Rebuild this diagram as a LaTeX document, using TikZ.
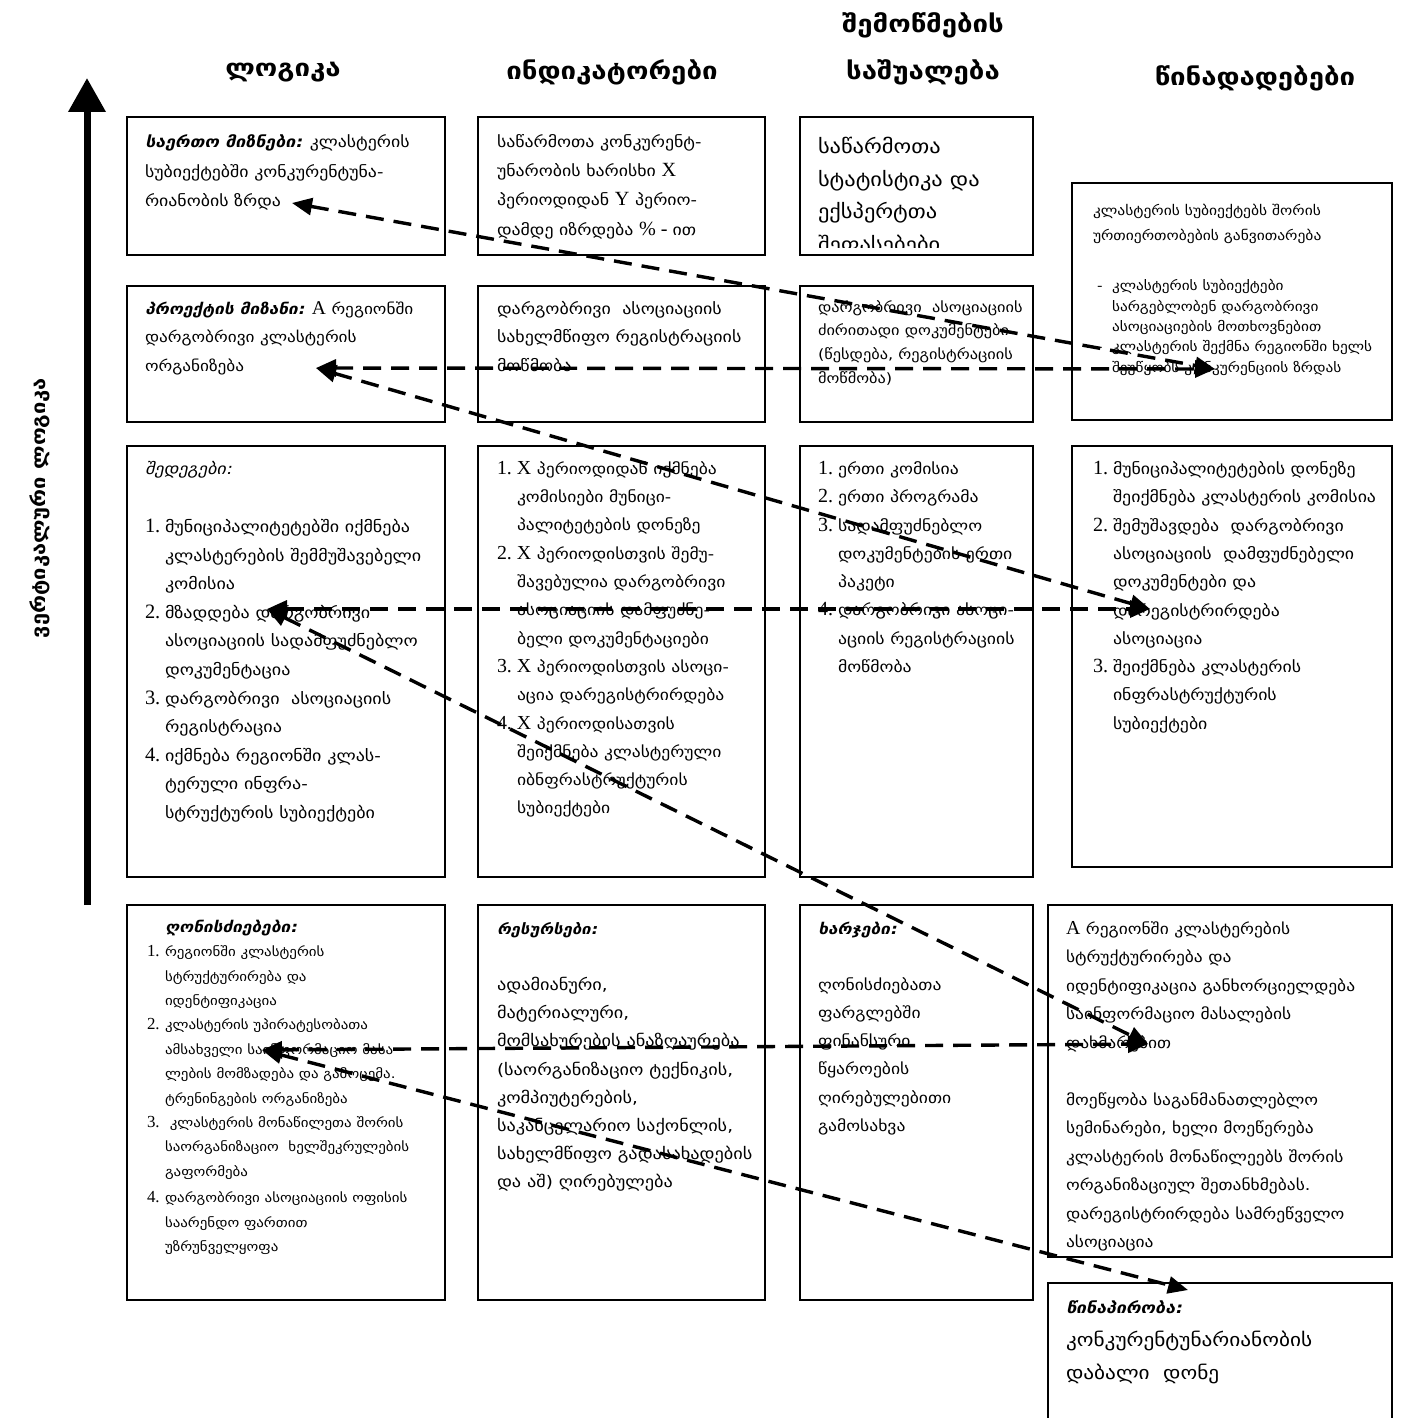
\documentclass[tikz,border=0pt]{standalone}
\usepackage{fontspec}
\setmainfont{DejaVu Sans}[FakeStretch=1.15]
\newfontfamily\slfont{DejaVu Sans}[FakeSlant=0.22,FakeStretch=1.15]
\newfontfamily\lsfont{Liberation Serif}[Scale=1.3]
\usetikzlibrary{arrows.meta}
\newcommand\fr{\rule{0pt}{1em}}
\newcommand\LS[1]{{\lsfont #1}}
\newcommand\nI[1]{\makebox[20pt][l]{\lsfont #1}}
\newcommand\nC{\makebox[20pt][l]{}}
\newcommand\dI[1]{\makebox[18pt][l]{\lsfont #1}}
\newcommand\dC{\makebox[18pt][l]{}}
\newcommand\hd[1]{{\slfont\bfseries #1}}
\tikzset{
  box/.style={draw, line width=1.5pt, inner sep=0pt, outer sep=0pt, anchor=north west},
  txt/.style={anchor=north west, inner sep=0pt, outer sep=0pt, align=left},
  fsz/.style 2 args={font=\fontsize{#1}{#2}\selectfont},
  head/.style={font=\fontsize{24}{28}\selectfont\bfseries, inner sep=0pt},
  link/.style={dash pattern=on 18pt off 10pt, line width=3.4pt,
    {Triangle[length=20pt,width=17pt]}-{Triangle[length=20pt,width=17pt]}},
}
\begin{document}
\begin{tikzpicture}[x=1pt,y=-1pt]
\useasboundingbox (0,0) rectangle (1405,1418);

% headers
\node[head] (hL) at (283,72) {ლოგიკა};
\node[head] (hI) at (612,72) {ინდიკატორები};
\node[head] (hS1) at (923,25) {შემოწმების};
\node[head] (hS2) at (923,72) {საშუალება};
\node[head] (hW) at (1255,78) {წინადადებები};
\node[head, font=\fontsize{19}{24}\selectfont\bfseries, rotate=90] (hV) at (40,508) {ვერტიკალური ლოგიკა};

% vertical arrow
\coordinate (vB) at (87,905);
\coordinate (vT) at (87,78);
\draw[line width=7pt, -{Triangle[length=34pt,width=36pt]}] (vB) -- (vT);

% boxes row 1
\node[box, minimum width=318pt, minimum height=138pt] (A1) at (127,117) {};
\node[box, minimum width=287pt, minimum height=138pt] (B1) at (478,117) {};
\node[box, minimum width=233pt, minimum height=138pt] (C1) at (800,117) {};
\node[box, minimum width=320pt, minimum height=237pt] (D1) at (1072,183) {};
% row 2
\node[box, minimum width=318pt, minimum height=136pt] (A2) at (127,286) {};
\node[box, minimum width=287pt, minimum height=136pt] (B2) at (478,286) {};
\node[box, minimum width=233pt, minimum height=136pt] (C2) at (800,286) {};
% row 3
\node[box, minimum width=318pt, minimum height=431pt] (A3) at (127,446) {};
\node[box, minimum width=287pt, minimum height=431pt] (B3) at (478,446) {};
\node[box, minimum width=233pt, minimum height=431pt] (C3) at (800,446) {};
\node[box, minimum width=320pt, minimum height=421pt] (D3) at (1072,446) {};
% row 4
\node[box, minimum width=318pt, minimum height=395pt] (A4) at (127,905) {};
\node[box, minimum width=287pt, minimum height=395pt] (B4) at (478,905) {};
\node[box, minimum width=233pt, minimum height=395pt] (C4) at (800,905) {};
\node[box, minimum width=344pt, minimum height=352pt] (D4) at (1048,905) {};
\node[box, minimum width=344pt, minimum height=150pt] (D5) at (1048,1283) {};

% texts row 1
\node[txt, fsz={15.5}{29.5}] (tA1) at (145,132) {\fr\hd{საერთო მიზნები:} კლასტერის\\სუბიექტებში კონკურენტუნა-\\რიანობის ზრდა};
\node[txt, fsz={15.5}{29.2}] (tB1) at (497,132) {\fr საწარმოთა კონკურენტ-\\უნარობის ხარისხი \LS{X}\\პერიოდიდან \LS{Y} პერიო-\\დამდე იზრდება \LS{\% - }ით};
\begin{scope}
\clip (801,118) rectangle (1032,247);
\node[txt, fsz={19.5}{32.5}] (tC1) at (818,134) {\fr საწარმოთა\\სტატისტიკა და\\ექსპერტთა\\შეფასებები};
\end{scope}
\node[txt, fsz={13.5}{25}] (tD1a) at (1093,202) {\fr კლასტერის სუბიექტებს შორის\\ურთიერთობების განვითარება};
\node[txt, fsz={13.3}{20.3}] (tD1b) at (1097,277.5) {\fr\makebox[15pt][l]{-}კლასტერის სუბიექტები\\\makebox[15pt][l]{}სარგებლობენ დარგობრივი\\\makebox[15pt][l]{}ასოციაციების მოთხოვნებით\\\makebox[15pt][l]{-}კლასტერის შექმნა რეგიონში ხელს\\\makebox[15pt][l]{}შეუწყობს კონკურენციის ზრდას};

% texts row 2
\node[txt, fsz={15}{28.5}] (tA2) at (145,299) {\fr\hd{პროექტის მიზანი:} \LS{A} რეგიონში\\დარგობრივი კლასტერის\\ორგანიზება};
\node[txt, fsz={15.6}{28.5}] (tB2) at (497,298.8) {\fr დარგობრივი\ \ ასოციაციის\\სახელმწიფო რეგისტრაციის\\მოწმობა};
\node[txt, fsz={14.2}{23.7}] (tC2) at (818,297.8) {\fr დარგობრივი\ \ ასოციაციის\\ძირითადი დოკუმენტები\\(წესდება, რეგისტრაციის\\მოწმობა)};

% texts row 3
\node[txt, fsz={15.7}{28.7}] (tA3h) at (145,458.7) {\fr{\slfont შედეგები:}};
\node[txt, fsz={15.7}{28.6}] (tA3) at (145,516.7) {\fr\nI{1.}მუნიციპალიტეტებში იქმნება\\\nC კლასტერების შემმუშავებელი\\\nC კომისია\\\nI{2.}მზადდება დარგობრივი\\\nC ასოციაციის სადამფუძნებლო\\\nC დოკუმენტაცია\\\nI{3.}დარგობრივი\ \ ასოციაციის\\\nC რეგისტრაცია\\\nI{4.}იქმნება რეგიონში კლას-\\\nC ტერული ინფრა-\\\nC სტრუქტურის სუბიექტები};
\node[txt, fsz={15.3}{28.3}] (tB3) at (497,459) {\fr\nI{1.}\LS{X} პერიოდიდან იქმნება\\\nC კომისიები მუნიცი-\\\nC პალიტეტების დონეზე\\\nI{2.}\LS{X} პერიოდისთვის შემუ-\\\nC შავებულია დარგობრივი\\\nC ასოციაციის დამფუძნე-\\\nC ბელი დოკუმენტაციები\\\nI{3.}\LS{X} პერიოდისთვის ასოცი-\\\nC აცია დარეგისტრირდება\\\nI{4.}\LS{X} პერიოდისათვის\\\nC შეიქმნება კლასტერული\\\nC იბნფრასტრუქტურის\\\nC სუბიექტები};
\node[txt, fsz={15.4}{28.3}] (tC3) at (818,459) {\fr\nI{1.}ერთი კომისია\\\nI{2.}ერთი პროგრამა\\\nI{3.}სადამფუძნებლო\\\nC დოკუმენტების ერთი\\\nC პაკეტი\\\nI{4.}დარგობრივი ასოცი-\\\nC აციის რეგისტრაციის\\\nC მოწმობა};
\node[txt, fsz={15.5}{28.3}] (tD3) at (1093,459) {\fr\nI{1.}მუნიციპალიტეტების დონეზე\\\nC შეიქმნება კლასტერის კომისია\\\nI{2.}შემუშავდება\ \ დარგობრივი\\\nC ასოციაციის\ \ დამფუძნებელი\\\nC დოკუმენტები და\\\nC დარეგისტრირდება\\\nC ასოციაცია\\\nI{3.}შეიქმნება კლასტერის\\\nC ინფრასტრუქტურის\\\nC სუბიექტები};

% texts row 4
\node[txt, fsz={15}{24}] (tA4h) at (165,917) {\fr\hd{ღონისძიებები:}};
\node[txt, fsz={13}{24.4}] (tA4) at (147,943.6) {\fr\dI{1.}რეგიონში კლასტერის\\\dC სტრუქტურირება და\\\dC იდენტიფიკაცია\\\dI{2.}კლასტერის უპირატესობათა\\\dC ამსახველი საინფორმაციო მასა-\\\dC ლების მომზადება და გამოცემა.\\\dC ტრენინგების ორგანიზება\\\dI{3.}\ კლასტერის მონაწილეთა შორის\\\dC საორგანიზაციო\ \ ხელშეკრულების\\\dC გაფორმება\\[2pt]\dI{4.}დარგობრივი ასოციაციის ოფისის\\\dC საარენდო ფართით\\\dC უზრუნველყოფა};
\node[txt, fsz={14.5}{28}] (tB4h) at (497,919.6) {\fr\hd{რესურსები:}};
\node[txt, fsz={15.9}{28.2}] (tB4) at (497,974.5) {\fr ადამიანური,\\მატერიალური,\\მომსახურების ანაზღაურება\\(საორგანიზაციო ტექნიკის,\\კომპიუტერების,\\საკანცელარიო საქონლის,\\სახელმწიფო გადასახადების\\და აშ) ღირებულება};
\node[txt, fsz={15}{28}] (tC4h) at (818,919) {\fr\hd{ხარჯები:}};
\node[txt, fsz={15.3}{28.2}] (tC4) at (818,975) {\fr ღონისძიებათა\\ფარგლებში\\ფინანსური\\წყაროების\\ღირებულებითი\\გამოსახვა};
\node[txt, fsz={15.2}{28.5}] (tD4) at (1066,919) {\fr\LS{A} რეგიონში კლასტერების\\სტრუქტურირება და\\იდენტიფიკაცია განხორციელდება\\საინფორმაციო მასალების\\დახმარებით\\[28.5pt]მოეწყობა საგანმანათლებლო\\სემინარები, ხელი მოეწერება\\კლასტერის მონაწილეებს შორის\\ორგანიზაციულ შეთანხმებას.\\დარეგისტრირდება სამრეწველო\\ასოციაცია};
\node[txt, fsz={18.5}{33}] (tD5) at (1066,1294.7) {\fr{\fontsize{15.5}{33}\selectfont\hd{წინაპირობა:}}\\კონკურენტუნარიანობის\\დაბალი\ \ დონე};

% connector end points
\coordinate (pA1) at (292,203);
\coordinate (pD1) at (1215,369);
\coordinate (pA2) at (316,368);
\coordinate (pA3) at (267,609);
\coordinate (pD3) at (1150,609);
\coordinate (pA4) at (262,1050);
\coordinate (pD4) at (1148,1044);
\coordinate (pD5) at (1188,1290);

\draw[link] (pA1) -- (pD1);
\draw[link] (pA2) -- (pD1);
\draw[link] (pA2) -- (pD3);
\draw[link] (pA3) -- (pD3);
\draw[link] (pA3) -- (pD4);
\draw[link] (pA4) -- (pD4);
\draw[link] (pA4) -- (pD5);
\end{tikzpicture}
\end{document}
